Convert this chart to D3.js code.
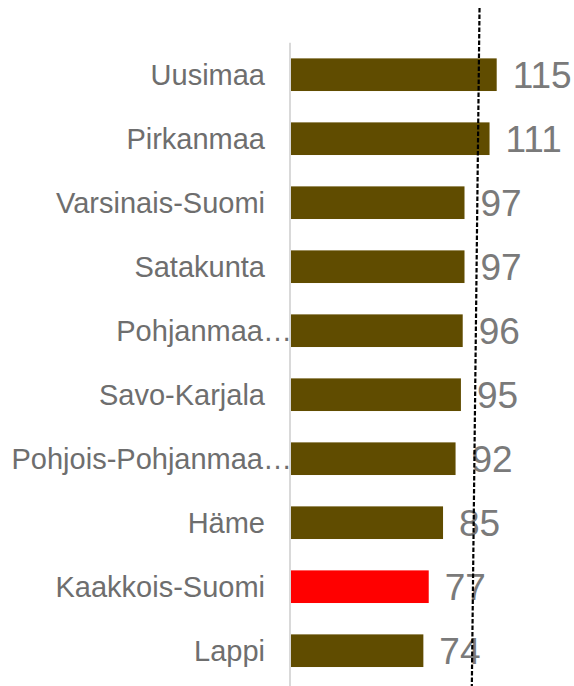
<!DOCTYPE html>
<html>
<head>
<meta charset="utf-8">
<script src="https://cdn.jsdelivr.net/npm/d3@7"></script>
<style>
  html, body { margin: 0; padding: 0; background: #fff; }
  svg { display: block; }
</style>
</head>
<body>
<div id="chart"></div>
<script>
// donnees
const regions = [
  "Uusimaa",
  "Pirkanmaa",
  "Varsinais-Suomi",
  "Satakunta",
  "Pohjanmaa…",
  "Savo-Karjala",
  "Pohjois-Pohjanmaa…",
  "Häme",
  "Kaakkois-Suomi",
  "Lappi"
];
const values = [115, 111, 97, 97, 96, 95, 92, 85, 77, 74];
const highlighted = ["Kaakkois-Suomi"];
// ligne pointillee de reference (legerement inclinee), valeur en haut et en bas
const refValues = [105.4, 101.1];

const width = 574,
  height = 686;

const svg = d3
  .select("#chart")
  .append("svg")
  .attr("width", width)
  .attr("height", height);

const x = d3.scaleLinear().domain([0, 115]).range([291, 496.7]);

const y = d3
  .scaleBand()
  .domain(regions)
  .range([42.7, 682.7])
  .paddingInner(0.49)
  .paddingOuter(0.245);

const data = regions.map((r, i) => ({ region: r, value: values[i] }));

// axe vertical gris
svg
  .append("line")
  .attr("x1", 290)
  .attr("x2", 290)
  .attr("y1", y.range()[0])
  .attr("y2", height)
  .style("stroke", "#d9d9d9")
  .style("stroke-width", 2);

// barres
svg
  .selectAll("rect.bar")
  .data(data)
  .join("rect")
  .attr("class", "bar")
  .attr("x", x(0))
  .attr("y", (d) => y(d.region))
  .attr("width", (d) => x(d.value) - x(0))
  .attr("height", y.bandwidth())
  .style("fill", (d) =>
    highlighted.includes(d.region) ? "#ff0000" : "#604c00"
  );

// etiquettes des categories
svg
  .append("g")
  .selectAll("text")
  .data(data)
  .join("text")
  .attr("x", (d) => (d.region.endsWith("…") ? 292 : 265))
  .attr("y", (d) => y(d.region) + y.bandwidth() / 2)
  .attr("dy", "0.35em")
  .style("text-anchor", "end")
  .style("font-family", "Liberation Sans, Arial, sans-serif")
  .style("font-size", "29px")
  .style("fill", "#6e6e6e")
  .text((d) => d.region);

// valeurs
svg
  .append("g")
  .selectAll("text")
  .data(data)
  .join("text")
  .attr("x", (d) => x(d.value) + 16)
  .attr("y", (d) => y(d.region) + y.bandwidth() / 2)
  .attr("dy", "0.36em")
  .style("text-anchor", "start")
  .style("font-family", "Liberation Sans, Arial, sans-serif")
  .style("font-size", "37px")
  .style("fill", "#7a7a7a")
  .text((d) => d.value);

// ligne de reference pointillee
svg
  .append("line")
  .attr("x1", x(refValues[0]))
  .attr("y1", 8)
  .attr("x2", x(refValues[1]))
  .attr("y2", height)
  .style("stroke", "#000")
  .style("stroke-width", 2.2)
  .style("stroke-dasharray", "4.5,2");
</script>
</body>
</html>
